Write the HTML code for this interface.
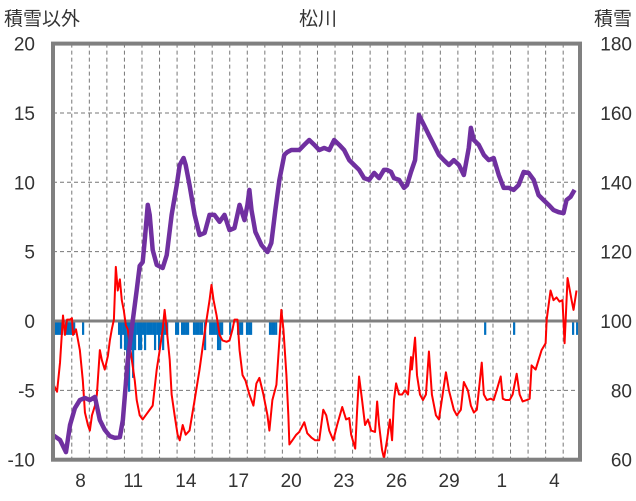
<!DOCTYPE html>
<html><head><meta charset="utf-8"><style>
body{margin:0;background:#fff;}
svg{display:block;font-family:"Liberation Sans","Noto Sans CJK JP",sans-serif;}
</style></head><body>
<svg id="chart" width="636" height="501" viewBox="0 0 636 501" xmlns="http://www.w3.org/2000/svg">
<text x="318" y="25" text-anchor="middle" font-size="19" fill="#333">松川</text>
<text x="4" y="25" font-size="19" fill="#333">積雪以外</text>
<text x="632" y="25" text-anchor="end" font-size="19" fill="#333">積雪</text>
<g id="grid"></g><g id="bars"></g><g id="lines"></g><g id="axes"></g>
</svg>
<script>
const leftTicks=[-10,-5,0,5,10,15,20];
const rightTicks=[60,80,100,120,140,160,180];
const dateLabels=['8','11','14','17','20','23','26','29','1','4'];
const snowT=[0,0.40,0.74,0.97,1.25,1.53,1.82,2.10,2.39,2.67,2.95,3.24,3.52,3.81,3.98,4.26,4.55,4.77,4.94,5.11,5.23,5.40,5.51,5.68,5.91,6.25,6.48,6.76,7.05,7.22,7.44,7.56,7.78,8.07,8.35,8.64,8.92,9.20,9.49,9.77,10.06,10.34,10.63,10.91,11.08,11.19,11.31,11.53,11.88,12.22,12.44,12.67,12.90,13.18,13.35,13.58,14.03,14.32,14.60,14.89,15.17,15.45,15.74,16.02,16.31,16.59,16.88,17.16,17.44,17.73,18.01,18.30,18.58,18.86,19.03,19.26,19.43,19.72,20.00,20.17,20.40,20.63,20.85,21.14,21.42,21.99,22.27,22.56,22.84,23.13,23.41,23.69,23.81,23.98,24.26,24.55,24.83,25.11,25.40,25.68,25.97,26.25,26.53,26.82,27.10,27.39,27.67,27.95,28.24,28.52,28.81,29.09,29.26,29.49,29.72];
const snowV=[67.1,65.7,62.2,70.0,74.9,77.2,77.8,77.2,78.1,71.4,68.6,66.8,66.3,66.5,71.4,88.7,100.3,108.9,115.9,117.0,123.4,133.5,130.6,120.5,116.2,115.3,119.0,130.6,139.2,145.0,147.0,145.0,139.2,130.6,124.8,125.4,130.6,130.6,128.6,130.6,126.2,126.8,133.5,129.1,133.5,137.8,132.0,125.7,121.9,119.9,122.5,132.0,140.7,147.9,148.7,149.3,149.3,150.8,152.2,150.8,149.3,149.9,149.3,152.2,150.8,149.3,146.4,145.0,143.6,141.2,140.7,142.7,141.2,143.6,143.6,143.0,141.2,140.7,138.4,139.2,143.0,146.4,159.4,156.5,153.6,147.9,146.4,145.0,146.4,145.0,142.1,149.9,155.7,152.2,150.8,147.9,146.4,147.0,142.1,138.4,138.4,137.8,139.2,143.0,142.7,140.7,136.3,134.9,133.5,132.0,131.4,131.1,134.9,135.8,137.8];
const tempT=[0,0.23,0.40,0.57,0.68,0.80,0.97,1.08,1.14,1.31,1.53,1.70,1.82,1.99,2.10,2.22,2.39,2.50,2.67,2.78,2.95,3.13,3.24,3.35,3.47,3.58,3.69,3.81,3.92,4.03,4.15,4.26,4.49,4.66,4.77,4.94,5.11,5.28,5.51,5.68,5.91,6.08,6.25,6.36,6.48,6.65,6.76,6.93,7.10,7.22,7.39,7.56,7.78,8.07,8.35,8.58,8.75,8.92,9.03,9.15,9.32,9.49,9.66,9.89,10.06,10.23,10.34,10.51,10.63,10.80,10.97,11.19,11.42,11.59,11.76,11.99,12.22,12.33,12.50,12.73,12.90,13.01,13.13,13.30,13.41,13.47,13.64,13.86,14.03,14.32,14.49,14.72,14.94,15.17,15.40,15.57,15.74,15.97,16.19,16.48,16.70,16.88,16.99,17.22,17.33,17.44,17.61,17.78,17.95,18.13,18.35,18.47,18.58,18.75,18.86,19.03,19.20,19.32,19.43,19.55,19.72,19.89,20.06,20.23,20.40,20.45,20.63,20.74,20.91,21.08,21.25,21.42,21.59,21.82,21.99,22.39,22.56,22.84,23.01,23.24,23.41,23.64,23.81,23.98,24.15,24.43,24.55,24.72,24.94,25.11,25.28,25.51,25.63,25.80,26.02,26.19,26.42,26.59,26.76,26.99,27.16,27.27,27.50,27.67,27.84,28.07,28.13,28.35,28.52,28.69,28.86,29.03,29.15,29.32,29.55,29.66,29.83];
const tempV=[-4.5,-5.1,-3.0,0.4,-1.0,0.1,0.1,0.2,-1.0,-0.6,-2.1,-4.3,-6.6,-7.5,-7.9,-6.8,-6.1,-5.3,-2.1,-2.8,-3.5,-2.5,-1.4,-0.6,0.1,3.9,2.2,3.0,1.5,0.8,-0.3,-0.6,-2.8,-4.3,-5.7,-6.8,-7.1,-6.8,-6.4,-6.1,-3.5,-2.1,-0.6,0.8,-0.6,-2.8,-5.3,-6.8,-8.2,-8.6,-7.5,-8.2,-7.9,-5.7,-3.5,-1.4,0.1,1.5,2.6,1.5,0.4,-1.0,-1.4,-1.5,-1.4,-0.6,0.1,0.1,-2.1,-3.9,-4.3,-5.3,-6.1,-4.5,-4.1,-5.3,-6.8,-7.9,-5.7,-4.6,-1.4,0.8,-0.6,-3.9,-6.8,-8.9,-8.6,-8.2,-8.0,-7.3,-8.1,-8.4,-8.6,-8.6,-6.4,-6.8,-7.9,-8.6,-7.5,-6.2,-7.1,-7.0,-8.2,-9.2,-6.4,-4.0,-5.7,-7.5,-7.1,-7.9,-8.0,-5.8,-7.5,-9.3,-9.9,-8.6,-7.1,-8.6,-5.7,-4.5,-5.3,-5.3,-5.0,-5.3,-2.6,-3.5,-1.2,-3.9,-5.3,-5.7,-5.3,-2.2,-5.3,-6.8,-7.1,-3.7,-5.0,-6.4,-6.8,-6.4,-4.4,-5.0,-6.1,-6.6,-6.4,-3.0,-5.3,-5.7,-5.6,-5.7,-5.0,-4.0,-5.6,-5.7,-5.7,-5.3,-3.8,-5.3,-5.8,-5.7,-5.6,-3.2,-3.5,-2.8,-2.1,-1.6,0.1,2.2,1.5,1.7,1.4,1.5,-1.6,3.1,1.5,0.8,2.2];
const precT=[0.17,0.28,0.40,0.51,0.74,0.85,0.97,1.08,1.20,1.71,3.76,3.87,3.99,4.10,4.22,4.33,4.44,4.56,4.67,4.79,4.90,5.01,5.13,5.24,5.36,5.47,5.58,5.70,5.81,5.93,6.04,6.15,6.27,6.38,6.50,7.01,7.12,7.35,7.46,7.58,7.69,8.03,8.15,8.26,8.38,8.49,8.66,8.95,9.06,9.17,9.29,9.40,9.52,9.63,10.09,10.54,10.66,10.77,11.05,11.17,11.28,12.36,12.48,12.59,12.71,24.62,26.27,29.63,29.86];
const precV=[1,1,1,1,1,1,1,1,1,1,1,2,1,2.1,3,5.1,2.1,4.1,2.1,1,2.1,2.1,1,2.1,1,1,1,1,2.1,1,2.1,1,2.1,1,1,1,1,1,1,1,1,1,1,1,1,1,2.1,1,1,1,1,2.1,2.1,1,1,1,1,1,1,1,1,1,1,1,1,1,1,1,1];

const NS='http://www.w3.org/2000/svg';
const X0=53,X1=580,Y0=43.6,Y1=459.7,PPD=17.55;
const xS=d=>X0+d*PPD;
const yL=v=>321-13.87*v;
const yR=v=>yL((v-100)/4);
function mk(tag,attrs,parent){const e=document.createElementNS(NS,tag);for(const k in attrs)e.setAttribute(k,attrs[k]);document.getElementById(parent).appendChild(e);return e;}
// vertical day gridlines
for(let k=0;k<30;k++){const x=xS(1.07+k);if(x>=X1-2)break;
const g=mk('line',{x1:x,x2:x,y1:Y0,y2:Y1,stroke:'#777','stroke-width':1,'stroke-dasharray':'4,3'},'grid');

}
leftTicks.forEach((v,i)=>{const y=yL(v);
if(v!==0&&v!==-10&&v!==20){const g=mk('line',{x1:X0,x2:X1,y1:y,y2:y,stroke:'#777','stroke-width':1,'stroke-dasharray':'4,3'},'grid');

}
const t=mk('text',{x:35,y:y+7,'text-anchor':'end','font-size':19,fill:'#333'},'axes');t.textContent=v;


const r=mk('text',{x:632,y:yR(rightTicks[i])+7,'text-anchor':'end','font-size':19,fill:'#333'},'axes');r.textContent=rightTicks[i];

});
dateLabels.forEach((s,i)=>{const t=mk('text',{x:xS(1.57+3*i),y:487,'text-anchor':'middle','font-size':19,fill:'#333'},'axes');t.textContent=s;

});
precT.forEach((d,i)=>{const b=mk('rect',{x:xS(d)-1,y:yL(0),width:2.2,height:yL(-precV[i])-yL(0),fill:'#0070c0'},'bars');

});
const z=mk('line',{x1:X0,x2:X1,y1:yL(0),y2:yL(0),stroke:'#808080','stroke-width':3},'lines');


const tp=mk('polyline',{points:tempT.map((d,i)=>xS(d)+','+yL(tempV[i])).join(' '),fill:'none',stroke:'#ff0000','stroke-width':2,'stroke-linejoin':'round'},'lines');


const sp=mk('polyline',{points:snowT.map((d,i)=>xS(d)+','+yR(snowV[i])).join(' '),fill:'none',stroke:'#7030a0','stroke-width':4.5,'stroke-linejoin':'round'},'lines');


const fr=mk('rect',{x:X0,y:Y0,width:X1-X0,height:Y1-Y0,fill:'none',stroke:'#808080','stroke-width':4},'axes');


</script>
</body></html>
